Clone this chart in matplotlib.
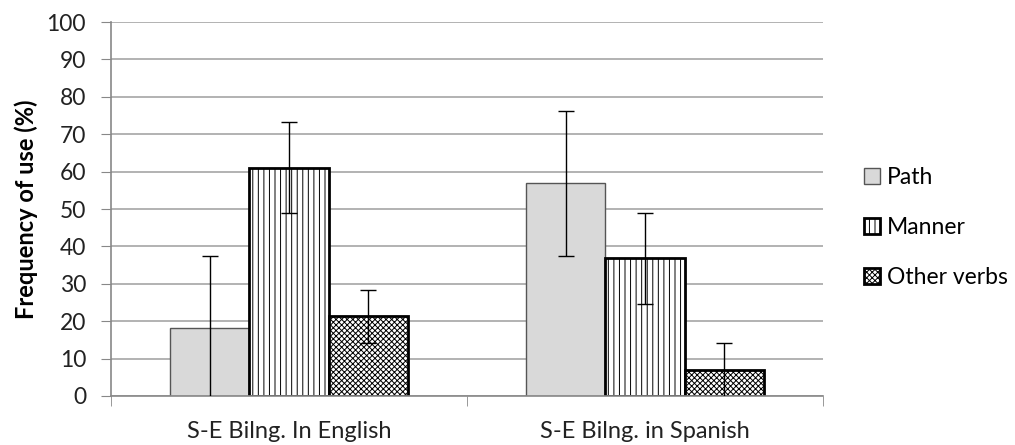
import numpy as np
import matplotlib
matplotlib.use("Agg")
import matplotlib.pyplot as plt

# values
groups = ["S-E Bilng. In English", "S-E Bilng. in Spanish"]
series = ["Path", "Manner", "Other verbs"]
path_vals = [18.1, 56.9]
manner_vals = [61.0, 36.8]
other_vals = [21.3, 6.9]
path_err = [19.4, 19.4]
manner_err = [12.2, 12.2]
other_err = [7.1, 7.4]
yticks = list(range(0, 101, 10))

plt.rcParams['font.family'] = ['Lato', 'DejaVu Sans']
plt.rcParams['hatch.linewidth'] = 0.7

fig = plt.figure(figsize=(10.15, 4.45), dpi=100)
ax = fig.add_axes([111 / 1015, 1 - 396 / 445, 712 / 1015, 374 / 445])

x = np.arange(len(groups))
w = 0.222
styles = [
    dict(facecolor="#d9d9d9", edgecolor="#555555", linewidth=1.0, hatch=None),
    dict(facecolor="white", edgecolor="black", linewidth=2.0, hatch="|||"),
    dict(facecolor="white", edgecolor="black", linewidth=2.0, hatch="xxxxxx"),
]
values = [path_vals, manner_vals, other_vals]
errs = [path_err, manner_err, other_err]

handles = []
for i, (vals, err, st) in enumerate(zip(values, errs, styles)):
    pos = x + (i - 1) * w
    b = ax.bar(pos, vals, w, label=series[i], zorder=2, **st)
    handles.append(b)
    ax.errorbar(pos, vals, yerr=err, fmt="none", ecolor="black",
                elinewidth=1.0, capsize=6, capthick=1.0, zorder=3)

ax.set_xlim(-0.5, 1.5)
ax.set_ylim(0, 100)
ax.set_yticks(yticks)
ax.tick_params(axis="y", labelsize=16.5, length=7, color="#888888", pad=11,
               labelcolor="#222222")
ax.yaxis.grid(True, color="#a6a6a6", linewidth=1.2, zorder=0)
ax.set_axisbelow(True)

ax.set_xticks(x)
ax.set_xticklabels(groups)
ax.set_xticks([-0.5, 0.5, 1.5], minor=True)
ax.tick_params(axis="x", which="major", length=0, labelsize=17, pad=18,
               labelcolor="#222222")
ax.tick_params(axis="x", which="minor", length=7, color="#888888")

for side in ["top", "right"]:
    ax.spines[side].set_visible(False)
for side in ["left", "bottom"]:
    ax.spines[side].set_color("#888888")
    ax.spines[side].set_linewidth(1.2)

# y label placed in figure coordinates
ax.set_ylabel("Frequency of use (%)", fontsize=17, fontweight="bold", va="center")
ax.yaxis.set_label_coords(26 / 1015, 1 - 209 / 445, transform=fig.transFigure)

fig.legend(handles=handles, labels=series, loc="center left",
           bbox_to_anchor=(855 / 1015, 1 - 227.5 / 445), frameon=False,
           fontsize=16.5, handlelength=0.7, handleheight=0.7,
           handletextpad=0.3, labelspacing=1.25, borderaxespad=0)

fig.savefig("out.png", dpi=100)
